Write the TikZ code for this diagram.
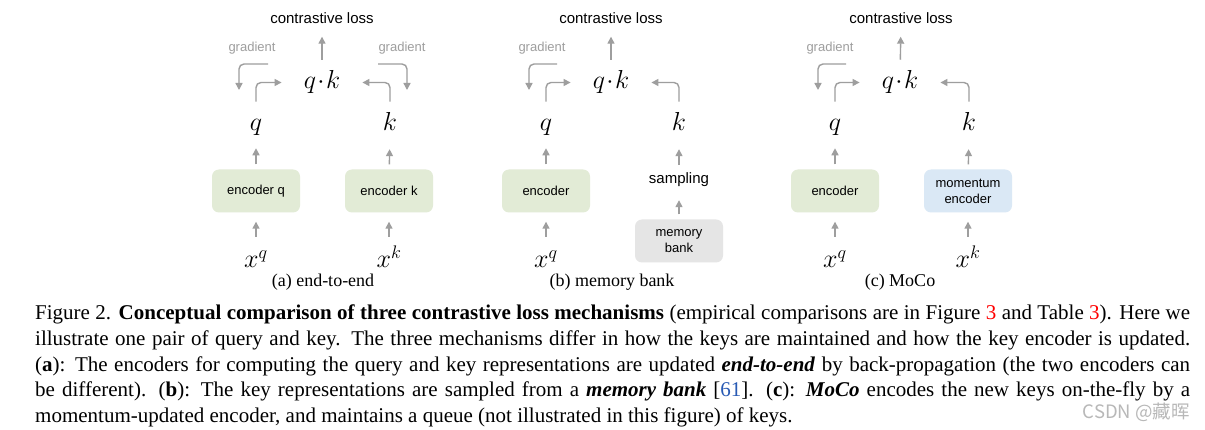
\RequirePackage{fix-cm}
\documentclass[tikz,border=0pt]{standalone}
\usepackage{fontspec}
\setmainfont{Liberation Serif}
\setsansfont{Liberation Sans}
\newfontfamily\cjkfont{Noto Sans CJK SC}
\usetikzlibrary{arrows.meta}
\usetikzlibrary{positioning}

\definecolor{arrowgray}{RGB}{158,158,158}
\definecolor{encgreen}{RGB}{226,235,214}
\definecolor{encblue}{RGB}{218,232,245}
\definecolor{bankgray}{RGB}{229,229,229}
\definecolor{citeblue}{RGB}{40,90,180}

\tikzset{
  flow/.style={arrowgray, line width=1.4pt, -{Triangle[length=7pt,width=7pt]}, rounded corners=5pt},
  encbox/.style={rounded corners=7pt, minimum width=88pt, minimum height=43pt, align=center, inner sep=2pt, font=\sffamily\fontsize{13}{16}\selectfont},
  sym/.style={inner sep=0pt, anchor=base, font=\fontsize{26}{30}\selectfont},
  losslbl/.style={inner sep=0pt, font=\sffamily\fontsize{15}{18}\selectfont},
  gradlbl/.style={inner sep=0pt, text=arrowgray, font=\sffamily\fontsize{13}{15}\selectfont},
  sublbl/.style={inner sep=0pt, font=\fontsize{18}{22}\selectfont}
}

\begin{document}
\begin{tikzpicture}[x=1pt, y=-1pt]
\fill[white] (0,0) rectangle (1205,430);
\useasboundingbox (0,0) rectangle (1205,430);

\begin{scope}[xshift=322pt]
\node[losslbl] (a-loss) at (0,18) {contrastive loss};
\node[sym] (a-qk) at (0,89) {$q\!\cdot\!k$};
\node[sym] (a-q) at (-66,131) {$q$};
\node[sym] (a-k) at (68,131) {$k$};
\node[encbox, fill=encgreen] (a-encq) at (-66,191) {encoder q};
\node[encbox, fill=encgreen] (a-enck) at (67,191) {encoder k};
\node[sym] (a-xq) at (-66,268) {$x^q$};
\node[sym] (a-xk) at (67,268) {$x^k$};
\node[sublbl] (a-cap) at (1,282) {(a) end-to-end};
\node[gradlbl] (a-gq) at (-70,48) {gradient};
\node[gradlbl] (a-gk) at (80,48) {gradient};
\coordinate (a-gqs) at (-54,64);
\coordinate (a-gqe) at (-83,90);
\coordinate (a-gks) at (56,64);
\coordinate (a-gke) at (85,90);
\draw[flow, shorten <=11pt, shorten >=13pt] (a-qk) -- (a-loss);
\draw[flow, shorten <=18pt, shorten >=22pt] (a-q) |- (a-qk);
\draw[flow, shorten <=11pt, shorten >=22pt] (a-k) |- (a-qk);
\draw[flow] (a-gqs) -| (a-gqe);
\draw[flow] (a-gks) -| (a-gke);
\draw[flow, shorten <=5pt, shorten >=12pt] (a-encq) -- (a-q);
\draw[flow, shorten <=5pt, shorten >=18pt] (a-enck) -- (a-k);
\draw[flow, shorten <=14pt, shorten >=9pt] (a-xq) -- (a-encq);
\draw[flow, shorten <=9pt, shorten >=9pt] (a-xk) -- (a-enck);
\end{scope}

\begin{scope}[xshift=611pt]
\node[losslbl] (b-loss) at (0,18) {contrastive loss};
\node[sym] (b-qk) at (0,89) {$q\!\cdot\!k$};
\node[sym] (b-q) at (-65,131) {$q$};
\node[sym] (b-k) at (68,131) {$k$};
\node[encbox, fill=encgreen] (b-encq) at (-65,191) {encoder};
\node[losslbl] (b-samp) at (68,180) {sampling};
\node[encbox, fill=bankgray] (b-bank) at (68,241) {memory\\bank};
\node[sym] (b-xq) at (-65,268) {$x^q$};
\node[sublbl] (b-cap) at (1,282) {(b) memory bank};
\node[gradlbl] (b-gq) at (-69,48) {gradient};
\coordinate (b-gqs) at (-54,64);
\coordinate (b-gqe) at (-82,90);
\draw[flow, shorten <=11pt, shorten >=13pt] (b-qk) -- (b-loss);
\draw[flow, shorten <=18pt, shorten >=22pt] (b-q) |- (b-qk);
\draw[flow, shorten <=11pt, shorten >=22pt] (b-k) |- (b-qk);
\draw[flow] (b-gqs) -| (b-gqe);
\draw[flow, shorten <=5pt, shorten >=12pt] (b-encq) -- (b-q);
\draw[flow, shorten <=8pt, shorten >=18pt] (b-samp) -- (b-k);
\draw[flow, shorten <=5pt, shorten >=13pt] (b-bank) -- (b-samp);
\draw[flow, shorten <=14pt, shorten >=9pt] (b-xq) -- (b-encq);
\end{scope}

\begin{scope}[xshift=900pt]
\node[losslbl] (c-loss) at (1,18) {contrastive loss};
\node[sym] (c-qk) at (0,89) {$q\!\cdot\!k$};
\node[sym] (c-q) at (-65,131) {$q$};
\node[sym] (c-k) at (69,131) {$k$};
\node[encbox, fill=encgreen] (c-encq) at (-65,191) {encoder};
\node[encbox, fill=encblue] (c-enck) at (68,191) {momentum\\encoder};
\node[sym] (c-xq) at (-65,268) {$x^q$};
\node[sym] (c-xk) at (68,268) {$x^k$};
\node[sublbl] (c-cap) at (0,282) {(c) MoCo};
\node[gradlbl] (c-gq) at (-70,48) {gradient};
\coordinate (c-gqs) at (-54,64);
\coordinate (c-gqe) at (-82,90);
\draw[flow, shorten <=11pt, shorten >=13pt] (c-qk) -- (c-loss);
\draw[flow, shorten <=18pt, shorten >=22pt] (c-q) |- (c-qk);
\draw[flow, shorten <=11pt, shorten >=22pt] (c-k) |- (c-qk);
\draw[flow] (c-gqs) -| (c-gqe);
\draw[flow, shorten <=5pt, shorten >=12pt] (c-encq) -- (c-q);
\draw[flow, shorten <=5pt, shorten >=18pt] (c-enck) -- (c-k);
\draw[flow, shorten <=14pt, shorten >=9pt] (c-xq) -- (c-encq);
\draw[flow, shorten <=9pt, shorten >=9pt] (c-xk) -- (c-enck);
\end{scope}

\node[anchor=north west, inner sep=0pt, text width=1155pt, align=justify,
  font=\fontsize{21}{25.6}\selectfont] (caption) at (35,305)
{\tolerance=9999\relax\hyphenpenalty=10000\relax
Figure 2. \textbf{Conceptual comparison of three contrastive loss mechanisms} (empirical comparisons are in Figure {\color{red}3} and Table {\color{red}3}). Here we\linebreak
illustrate one pair of query and key. The three mechanisms differ in how the keys are maintained and how the key encoder is updated.\linebreak
(\textbf{a}): The encoders for computing the query and key representations are updated \textbf{\textit{end-to-end}} by back-propagation (the two encoders can\linebreak
be different). (\textbf{b}): The key representations are sampled from a \textbf{\textit{memory bank}} [{\color{citeblue}61}]. (\textbf{c}): \textbf{\textit{MoCo}} encodes the new keys on-the-fly by a\linebreak
momentum-updated encoder, and maintains a queue (not illustrated in this figure) of keys.};

\node[anchor=east, inner sep=0pt, text=black!28, font=\cjkfont\fontsize{18.5}{21}\selectfont] (mark) at (1190,412) {CSDN @藏晖};
\end{tikzpicture}
\end{document}
